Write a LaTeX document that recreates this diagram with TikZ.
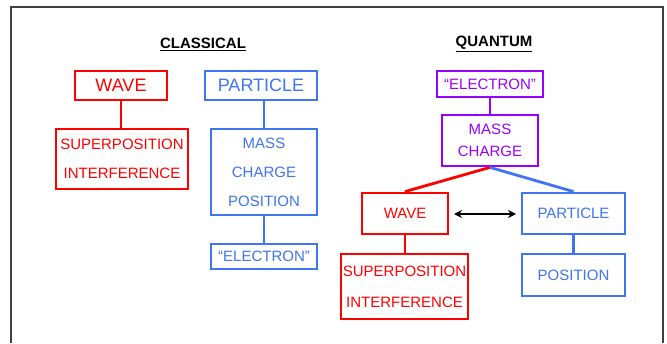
\documentclass[tikz,border=0pt]{standalone}
\usepackage{fontspec}
\setmainfont{Liberation Sans}
\usetikzlibrary{arrows.meta}
\definecolor{gred}{HTML}{FF0000}
\definecolor{gblue}{HTML}{3F74F2}
\definecolor{gpurple}{HTML}{9900FF}
\begin{document}
\begin{tikzpicture}[x=1pt,y=1pt,
  box/.style={draw, line width=2.8pt, inner sep=0pt, align=center},
  redbox/.style={box, draw=gred, text=gred},
  bluebox/.style={box, draw=gblue, text=gblue},
  purplebox/.style={box, draw=gpurple, text=gpurple},
  big/.style={font=\fontsize{18}{21}\selectfont},
  std/.style={font=\fontsize{15}{29}\selectfont},
  title/.style={font=\fontsize{15}{18}\selectfont\bfseries},
  conn/.style={line width=2.8pt}
]
\useasboundingbox (0,0) rectangle (667,-343);
\fill[white] (0,0) rectangle (667,-343);
\draw[line width=1.2pt, color=black!75] (11,-343) -- (11,-7) -- (663,-7) -- (663,-343);

% Titles
\node[title] (tcl) at (203,-44) {\underline{CLASSICAL}};
\node[title] (tqu) at (494,-44) {\underline{QUANTUM}};

% Classical
\node[redbox, big, minimum width=92pt, minimum height=29pt] (wave1) at (121,-85.5) {WAVE};
\node[redbox, std, minimum width=132pt, minimum height=60pt] (sup1) at (122,-159) {SUPERPOSITION\\INTERFERENCE};
\node[bluebox, big, minimum width=112pt, minimum height=29pt] (part1) at (261,-85.5) {PARTICLE};
\node[bluebox, std, minimum width=106pt, minimum height=86pt] (mcp1) at (264,-172) {MASS\\CHARGE\\POSITION};
\node[bluebox, std, minimum width=106pt, minimum height=25pt] (elec1) at (264,-256.5) {“ELECTRON”};

\draw[conn, gred] (sup1.north -| wave1.south) -- (wave1.south);
\draw[conn, gblue] (mcp1.north) -- (mcp1.north |- part1.south);
\draw[conn, gblue] (mcp1.south) -- (elec1.north);

% Quantum
\node[purplebox, std, minimum width=106pt, minimum height=26pt] (elec2) at (490,-84) {“ELECTRON”};
\node[purplebox, font=\fontsize{15}{22}\selectfont, minimum width=96pt, minimum height=51pt] (mc2) at (490,-140.5) {MASS\\CHARGE};
\node[redbox, std, minimum width=86pt, minimum height=41pt] (wave2) at (405,-213.5) {WAVE};
\node[bluebox, std, minimum width=103pt, minimum height=41pt] (part2) at (573.5,-213.5) {PARTICLE};
\node[redbox, font=\fontsize{15}{31}\selectfont, minimum width=127pt, minimum height=65pt] (sup2) at (404.5,-286.5) {SUPERPOSITION\\INTERFERENCE};
\node[bluebox, std, minimum width=103pt, minimum height=42pt] (pos2) at (573.5,-275) {POSITION};

\draw[conn, gpurple] (elec2.south) -- (mc2.north);
\draw[conn, gred] (mc2.south) -- (wave2.north);
\draw[conn, gblue] (mc2.south) -- (part2.north);
\draw[conn, gred] (wave2.south) -- (sup2.north -| wave2.south);
\draw[conn, gblue] (part2.south) -- (pos2.north);

\coordinate (al) at (454,-214);
\coordinate (ar) at (516,-214);
\draw[line width=2.2pt, {Stealth[length=8pt,width=8pt]}-{Stealth[length=8pt,width=8pt]}] (al) -- (ar);
\end{tikzpicture}
\end{document}
